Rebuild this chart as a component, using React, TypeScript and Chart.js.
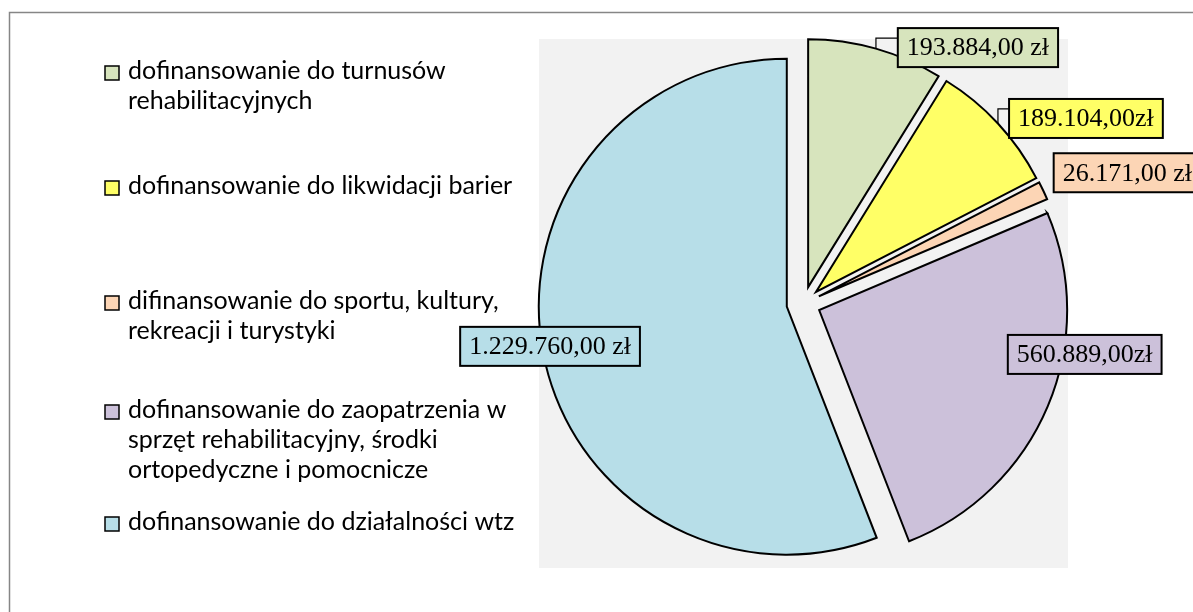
import React, { useEffect, useRef } from 'react';
import { Chart, registerables } from 'chart.js';

Chart.register(...registerables);

// ---------------- data ----------------
const categories = [
  'dofinansowanie do turnusów rehabilitacyjnych',
  'dofinansowanie do likwidacji barier',
  'difinansowanie do sportu, kultury, rekreacji i turystyki',
  'dofinansowanie do zaopatrzenia w sprzęt rehabilitacyjny, środki ortopedyczne i pomocnicze',
  'dofinansowanie do działalności wtz',
];
const legendLines = [
  ['dofinansowanie do turnusów', 'rehabilitacyjnych'],
  ['dofinansowanie do likwidacji barier'],
  ['difinansowanie do sportu, kultury,', 'rekreacji i turystyki'],
  ['dofinansowanie do zaopatrzenia w', 'sprzęt rehabilitacyjny, środki', 'ortopedyczne i pomocnicze'],
  ['dofinansowanie do działalności wtz'],
];
const values = [193884, 189104, 26171, 560889, 1229760];
const valueLabels = ['193.884,00 zł', '189.104,00zł', '26.171,00 zł', '560.889,00zł', '1.229.760,00 zł'];
const colors = ['#d7e4bd', '#ffff66', '#fcd5b5', '#ccc1da', '#b7dee8'];

// ---------------- layout / style ----------------
const W = 1193;
const H = 612;
const PLOT = { left: 539, top: 39, right: 1068, bottom: 568 };
const PIE_RADIUS = 248;
const EXPLODE = 17;
const LABEL_SHIFT: [number, number][] = [[102, -1], [88, -5], [84, -18], [37, -52], [7, -6]];
const LEADER = [true, true, false, false, false];
const LABEL_FONT = '26px "Liberation Serif"';
const LABEL_PAD_X = 9;
const LABEL_H = 39;
const LEGEND_FONT = '25px Lato';
const LEGEND_SWATCH_X = 105;
const LEGEND_TEXT_X = 128;
const LEGEND_BASELINES = [79, 194, 309, 418, 530];
const LEGEND_LINE_H = 30;

const backgroundPlugin = {
  id: 'bgFrame',
  beforeDraw(chart: any) {
    const { ctx, chartArea } = chart;
    ctx.save();
    ctx.fillStyle = '#ffffff';
    ctx.fillRect(0, 0, W, H);
    ctx.strokeStyle = '#868686';
    ctx.lineWidth = 1.5;
    ctx.strokeRect(9.5, 12.5, W + 20, H + 20);
    ctx.fillStyle = '#f2f2f2';
    ctx.fillRect(chartArea.left, chartArea.top, chartArea.right - chartArea.left, chartArea.bottom - chartArea.top);
    ctx.restore();
  },
};

const explodePlugin = {
  id: 'explode',
  beforeDatasetsDraw(chart: any) {
    const meta = chart.getDatasetMeta(0);
    meta.data.forEach((arc: any) => {
      if (arc.__exploded) return;
      const orig = arc.draw.bind(arc);
      arc.draw = (ctx: CanvasRenderingContext2D, area: any) => {
        const half = (arc.startAngle + arc.endAngle) / 2;
        ctx.save();
        ctx.translate(Math.cos(half) * EXPLODE, Math.sin(half) * EXPLODE);
        orig(ctx, area);
        ctx.restore();
      };
      arc.__exploded = true;
    });
  },
};

const labelPlugin = {
  id: 'valueLabels',
  afterDatasetsDraw(chart: any) {
    const { ctx } = chart;
    const meta = chart.getDatasetMeta(0);
    ctx.save();
    ctx.font = LABEL_FONT;
    meta.data.forEach((arc: any, i: number) => {
      const half = (arc.startAngle + arc.endAngle) / 2;
      const cx = arc.x + Math.cos(half) * EXPLODE;
      const cy = arc.y + Math.sin(half) * EXPLODE;
      const ax = cx + Math.cos(half) * arc.outerRadius;
      const ay = cy + Math.sin(half) * arc.outerRadius;
      const lx = ax + LABEL_SHIFT[i][0];
      const ly = ay + LABEL_SHIFT[i][1];
      const text = valueLabels[i];
      const tw = ctx.measureText(text).width;
      const bw = tw + LABEL_PAD_X * 2;
      const bx = lx - bw / 2;
      const by = ly - LABEL_H / 2;
      if (LEADER[i]) {
        ctx.strokeStyle = '#000';
        ctx.lineWidth = 1.2;
        ctx.beginPath();
        ctx.moveTo(ax, ay);
        ctx.lineTo(ax, by + 10);
        ctx.lineTo(bx, by + 10);
        ctx.stroke();
      }
      ctx.fillStyle = colors[i];
      ctx.fillRect(bx, by, bw, LABEL_H);
      ctx.strokeStyle = '#000';
      ctx.lineWidth = 2;
      ctx.strokeRect(bx, by, bw, LABEL_H);
      ctx.fillStyle = '#000';
      ctx.textAlign = 'center';
      ctx.textBaseline = 'middle';
      ctx.fillText(text, lx, ly + 1);
    });
    ctx.restore();
  },
};

const legendPlugin = {
  id: 'sideLegend',
  afterDraw(chart: any) {
    const { ctx } = chart;
    ctx.save();
    ctx.font = LEGEND_FONT;
    ctx.textAlign = 'left';
    ctx.textBaseline = 'alphabetic';
    legendLines.forEach((lines, i) => {
      const base = LEGEND_BASELINES[i];
      ctx.fillStyle = colors[i];
      ctx.fillRect(LEGEND_SWATCH_X, base - 13, 14, 14);
      ctx.strokeStyle = '#000';
      ctx.lineWidth = 1.5;
      ctx.strokeRect(LEGEND_SWATCH_X, base - 13, 14, 14);
      ctx.fillStyle = '#000';
      lines.forEach((line, j) => {
        ctx.fillText(line, LEGEND_TEXT_X, base + j * LEGEND_LINE_H);
      });
    });
    ctx.restore();
  },
};

export default function App() {
  const canvasRef = useRef<HTMLCanvasElement | null>(null);

  useEffect(() => {
    const canvas = canvasRef.current;
    if (!canvas) return;
    const chart = new Chart(canvas, {
      type: 'pie',
      data: {
        labels: categories,
        datasets: [
          {
            data: values,
            backgroundColor: colors,
            borderColor: '#000000',
            borderWidth: 2,
            borderJoinStyle: 'miter',
            offset: 0,
            radius: PIE_RADIUS,
          } as any,
        ],
      },
      options: {
        responsive: false,
        animation: false,
        events: [],
        layout: {
          padding: {
            left: PLOT.left,
            top: PLOT.top,
            right: W - PLOT.right,
            bottom: H - PLOT.bottom,
          },
        },
        plugins: {
          legend: { display: false },
          tooltip: { enabled: false },
        },
      },
      plugins: [backgroundPlugin, explodePlugin, labelPlugin, legendPlugin],
    });
    let alive = true;
    if ((document as any).fonts) {
      Promise.all([
        (document as any).fonts.load(LEGEND_FONT),
        (document as any).fonts.load(LABEL_FONT),
      ]).then(() => {
        if (alive) chart.draw();
      }).catch(() => {});
    }
    return () => {
      alive = false;
      chart.destroy();
    };
  }, []);

  return (
    <div style={{ position: 'absolute', left: 0, top: 0, width: W, height: H, overflow: 'hidden', background: '#fff' }}>
      <canvas ref={canvasRef} width={W} height={H} style={{ width: W, height: H, display: 'block' }} />
    </div>
  );
}
